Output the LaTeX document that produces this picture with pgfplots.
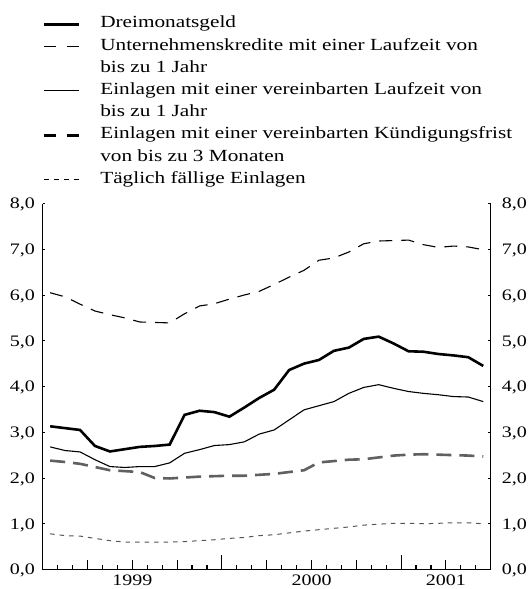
\documentclass[border=0pt]{standalone}
\usepackage{pgfplots}
\pgfplotsset{compat=1.18}
\usepackage{fontspec}
\setmainfont{Liberation Serif}[FakeStretch=1.25]
\definecolor{dgray}{HTML}{606060}
\definecolor{mgray}{HTML}{555555}
\pgfplotstableread{
x dm uk el ek tf
0.5 3.13 6.05 2.68 2.38 0.78
1.5 3.09 5.96 2.60 2.35 0.74
2.5 3.05 5.80 2.57 2.31 0.73
3.5 2.70 5.65 2.40 2.24 0.68
4.5 2.58 5.57 2.25 2.17 0.63
5.5 2.63 5.50 2.23 2.15 0.60
6.5 2.68 5.41 2.25 2.13 0.60
7.5 2.70 5.40 2.25 2.00 0.60
8.5 2.73 5.39 2.33 1.99 0.60
9.5 3.38 5.59 2.54 2.01 0.61
10.5 3.47 5.76 2.62 2.03 0.63
11.5 3.44 5.81 2.71 2.04 0.65
12.5 3.34 5.91 2.73 2.05 0.68
13.5 3.54 6.00 2.79 2.05 0.70
14.5 3.75 6.08 2.96 2.07 0.74
15.5 3.93 6.23 3.05 2.09 0.76
16.5 4.36 6.39 3.27 2.13 0.80
17.5 4.50 6.54 3.49 2.17 0.84
18.5 4.58 6.76 3.58 2.34 0.87
19.5 4.78 6.81 3.67 2.37 0.90
20.5 4.85 6.94 3.85 2.40 0.93
21.5 5.04 7.12 3.98 2.41 0.97
22.5 5.09 7.18 4.04 2.45 0.99
23.5 4.94 7.19 3.96 2.49 1.01
24.5 4.77 7.20 3.89 2.51 1.01
25.5 4.76 7.10 3.85 2.52 1.00
26.5 4.71 7.04 3.82 2.51 1.01
27.5 4.68 7.07 3.78 2.50 1.02
28.5 4.64 7.05 3.77 2.49 1.02
29.5 4.45 6.99 3.67 2.47 1.00
}\data
\begin{document}
\begin{tikzpicture}
\useasboundingbox (-42.7pt,-19.5pt) rectangle (485.3pt,569.5pt);
\pgfplotsset{
  base/.style={width=448pt,height=366pt,scale only axis,
    xmin=0,xmax=30,ymin=0,ymax=8,clip=false,
    axis line style={line width=1.3pt,black}},
  ylab/.style={ytick={0,1,...,8},
    yticklabel={\pgfmathprintnumber[assume math mode=true,use comma,fixed,fixed zerofill,precision=1]{\tick}},
    major tick length=2.5pt, tick align=inside,
    tick style={line width=1pt,black}},
}
\begin{axis}[base,
  axis x line*=bottom, axis y line=none,
  xtick={3,6,9,15,18,21,27}, xticklabels={,1999,,,2000,,2001},
  extra x ticks={12,24}, extra x tick labels={},
  extra x tick style={major tick length=14pt},
  minor xtick={1,2,4,5,7,8,10,11,13,14,16,17,19,20,22,23,25,26,28,29},
  major tick length=9pt, minor tick length=4.5pt,
  tick align=inside, xtick align=inside,
  tick style={line width=1.1pt,black},
  xticklabel style={font=\fontsize{16}{18}\selectfont, inner sep=0pt, anchor=north, yshift=-5.5pt},
  legend cell align=left,
  legend image code/.code={\draw[#1] (0pt,0pt) -- (35pt,0pt);},
  legend style={at={(axis description cs:0,1.511)}, anchor=north west,
    draw=none, fill=none, inner sep=0pt, outer sep=0pt,
    row sep=6.7pt, column sep=20pt,
    font=\fontsize{17}{19}\selectfont,
    nodes={inner sep=0pt, text height=11.5pt, text depth=4pt}},
]
\addplot[forget plot, mgray, line width=1pt, dash pattern=on 4.5pt off 5pt] table[x=x,y=tf] {\data};
\addplot[forget plot, dgray, line width=2.6pt, dash pattern=on 15pt off 8pt] table[x=x,y=ek] {\data};
\addplot[forget plot, black, line width=1.1pt] table[x=x,y=el] {\data};
\addplot[forget plot, black, line width=1.1pt, dash pattern=on 13pt off 9pt] table[x=x,y=uk] {\data};
\addplot[forget plot, black, line width=2.6pt] table[x=x,y=dm] {\data};

\addlegendimage{black, line width=2.6pt}
\addlegendentry{Dreimonatsgeld}
\addlegendimage{black, line width=1.1pt, dash pattern=on 12pt off 11pt}
\addlegendentry{Unternehmenskredite mit einer Laufzeit von}
\addlegendimage{empty legend}
\addlegendentry{bis zu 1 Jahr}
\addlegendimage{black, line width=1.1pt}
\addlegendentry{Einlagen mit einer vereinbarten Laufzeit von}
\addlegendimage{empty legend}
\addlegendentry{bis zu 1 Jahr}
\addlegendimage{black, line width=2.6pt, dash pattern=on 12pt off 11pt}
\addlegendentry{Einlagen mit einer vereinbarten Kündigungsfrist}
\addlegendimage{empty legend}
\addlegendentry{von bis zu 3 Monaten}
\addlegendimage{black, line width=1pt, dash pattern=on 5pt off 5pt}
\addlegendentry{Täglich fällige Einlagen}
\end{axis}

\begin{axis}[base, ylab,
  axis x line=none, axis y line*=left,
  yticklabel style={font=\fontsize{16}{18}\selectfont, anchor=base east, inner sep=0pt, xshift=-7.5pt, yshift=-5.4pt},
]
\end{axis}

\begin{axis}[base, ylab,
  axis x line=none, axis y line*=right,
  yticklabel style={font=\fontsize{16}{18}\selectfont, anchor=base west, inner sep=0pt, xshift=11pt, yshift=-5.4pt},
]
\end{axis}
\end{tikzpicture}
\end{document}
